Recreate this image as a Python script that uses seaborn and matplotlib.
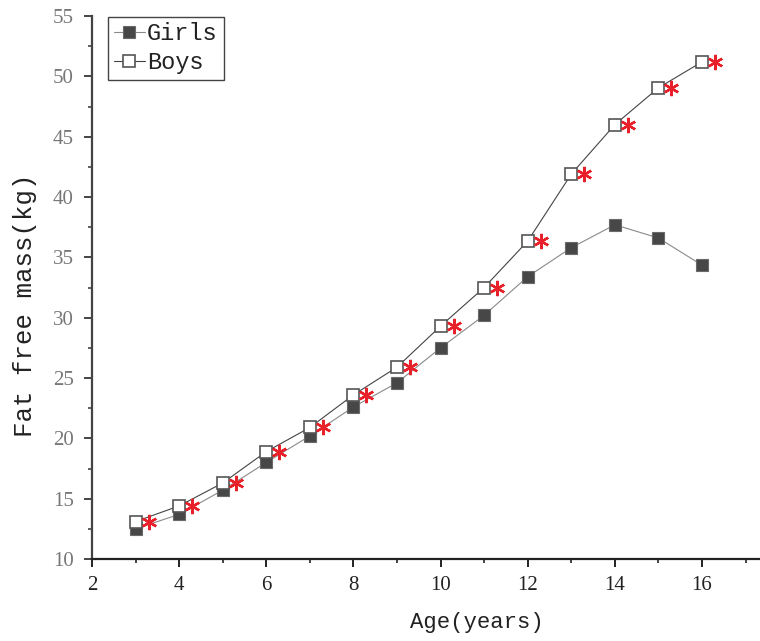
import matplotlib
matplotlib.use("Agg")
import matplotlib.pyplot as plt
import matplotlib.transforms as mtransforms
from matplotlib.ticker import MultipleLocator
import seaborn as sns
import pandas as pd

ages = [3, 4, 5, 6, 7, 8, 9, 10, 11, 12, 13, 14, 15, 16]
girls = [12.5, 13.7, 15.7, 18.0, 20.2, 22.6, 24.6, 27.5, 30.2, 33.4, 35.8, 37.7, 36.6, 34.35]
boys = [13.1, 14.4, 16.3, 18.9, 20.9, 23.6, 25.9, 29.3, 32.5, 36.35, 41.9, 46.0, 49.05, 51.2]
x_ticks = [2, 4, 6, 8, 10, 12, 14, 16]
y_ticks = [10, 15, 20, 25, 30, 35, 40, 45, 50, 55]

df = pd.DataFrame({"age": ages, "girls": girls, "boys": boys})

sns.set_style("ticks")
plt.rcParams["font.family"] = ["Liberation Mono", "DejaVu Sans Mono"]

fig = plt.figure(figsize=(7.6, 6.41), dpi=100)
W, H = 760, 641
ax = fig.add_axes([92 / W, (H - 559) / H, (760 - 92) / W, (559 - 16) / H])

sns.lineplot(data=df, x="age", y="girls", ax=ax, color="#8a8a8a", linewidth=0.8,
             marker="s", markersize=8, markerfacecolor="#474747",
             markeredgecolor="#6a6a6a", markeredgewidth=0.8, label="Girls")
sns.lineplot(data=df, x="age", y="boys", ax=ax, color="#444444", linewidth=0.8,
             marker="s", markersize=8, markerfacecolor="white",
             markeredgecolor="#555555", markeredgewidth=1.2, label="Boys")

# significance asterisks, shifted to the right of the boys' markers
offs = mtransforms.offset_copy(ax.transData, fig=fig, x=13, y=0, units="dots")
ax.plot(ages, boys, linestyle="none", marker=(6, 2, 0), markersize=11,
        markeredgewidth=1.7, color="#e8202a", transform=offs, zorder=5)

ax.set_xlim(2, 17.33)
ax.set_ylim(10, 55)
ax.set_xticks(x_ticks)
ax.set_yticks(y_ticks)
ax.xaxis.set_minor_locator(MultipleLocator(1))
ax.yaxis.set_minor_locator(MultipleLocator(2.5))

ax.tick_params(axis="both", which="major", length=6, width=1.4, direction="out")
ax.tick_params(axis="both", which="minor", length=3, width=1.2, direction="out")
ax.tick_params(axis="x", which="both", colors="#222222", labelcolor="#222222", pad=6)
ax.tick_params(axis="y", which="both", colors="#444444", labelcolor="#777777", pad=7)
for lab in ax.get_xticklabels() + ax.get_yticklabels():
    lab.set_fontfamily(["Liberation Serif", "DejaVu Serif"])
    lab.set_fontsize(15)

for s in ["top", "right"]:
    ax.spines[s].set_visible(False)
ax.spines["left"].set_color("#444444")
ax.spines["left"].set_linewidth(1.6)
ax.spines["bottom"].set_color("#222222")
ax.spines["bottom"].set_linewidth(1.6)

ax.set_xlabel("Age(years)", fontsize=16, color="#222222")
ax.set_ylabel("Fat free mass(kg)", fontsize=18.5, color="#222222")
ax.xaxis.set_label_coords(0.576, -0.097)
ax.yaxis.set_label_coords(-0.083, 0.468)

leg = ax.legend(loc="upper left", bbox_to_anchor=(0.024, 0.999), borderaxespad=0,
                fontsize=17, frameon=True, fancybox=False, framealpha=1,
                edgecolor="#444444", handlelength=1.3, handletextpad=0.1,
                borderpad=0.25, labelspacing=0.25)
leg.get_frame().set_linewidth(1.0)
for t in leg.get_texts():
    t.set_color("#222222")

fig.savefig("out.png", dpi=100)
